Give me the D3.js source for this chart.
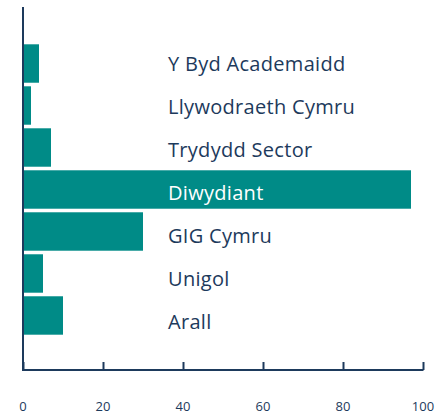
<!DOCTYPE html>
<head>
  <meta charset="UTF-8">
  <script src="https://d3js.org/d3.v7.min.js"></script>
  <style>
    body { margin: 0; background: #fff; }
    text { font-family: "Open Sans", sans-serif; }
  </style>
</head>
<body>
  <svg id="chart"></svg>
  <script>
    var categories = ["Y Byd Academaidd", "Llywodraeth Cymru", "Trydydd Sector", "Diwydiant", "GIG Cymru", "Unigol", "Arall"];
    var values = [4, 2, 7, 97, 30, 5, 10];
    var ticks = [0, 20, 40, 60, 80, 100];

    var width = 443, height = 414;
    var navy = "#1d3a5c", teal = "#008b87";

    var svg = d3.select("#chart")
      .attr("width", width)
      .attr("height", height);

    var x = d3.scaleLinear().domain([0, 100]).range([23, 423]);
    var y = d3.scaleBand().domain(categories).range([44.3, 334.7]).paddingInner(0.085);
    // labels sit on a slightly wider grid than the bars
    var yLab = d3.scalePoint().domain(categories).range([64, 322]);

    svg.selectAll("rect.bar")
      .data(categories)
      .enter().append("rect")
      .attr("class", "bar")
      .attr("x", x(0))
      .attr("y", function(d) { return y(d); })
      .attr("width", function(d, i) { return x(values[i]) - x(0); })
      .attr("height", y.bandwidth())
      .attr("fill", teal);

    svg.selectAll("text.lab")
      .data(categories)
      .enter().append("text")
      .attr("class", "lab")
      .attr("x", 168)
      .attr("y", function(d) { return yLab(d); })
      .attr("dy", "0.35em")
      .attr("font-size", 20)
      .attr("letter-spacing", "0.3px")
      .attr("fill", function(d, i) { return x(values[i]) > 168 ? "#fff" : navy; })
      .text(function(d) { return d; });

    // x axis
    var xAxis = d3.axisTop(x).tickValues(ticks).tickSize(8).tickFormat("");
    var gx = svg.append("g").attr("transform", "translate(0,370)").call(xAxis);
    gx.select(".domain").attr("stroke", navy).attr("stroke-width", 2).attr("d", "M22,0H423.5");
    gx.selectAll(".tick line").attr("stroke", navy).attr("stroke-width", 2);

    svg.selectAll("text.tick-lab")
      .data(ticks)
      .enter().append("text")
      .attr("class", "tick-lab")
      .attr("x", function(d) { return x(d); })
      .attr("y", 411)
      .attr("text-anchor", "middle")
      .attr("font-size", 13)
      .attr("fill", navy)
      .text(function(d) { return d; });

    // y axis line
    svg.append("line")
      .attr("x1", 23).attr("x2", 23)
      .attr("y1", 7).attr("y2", 371)
      .attr("stroke", navy)
      .attr("stroke-width", 2);
  </script>
</body>
</html>
